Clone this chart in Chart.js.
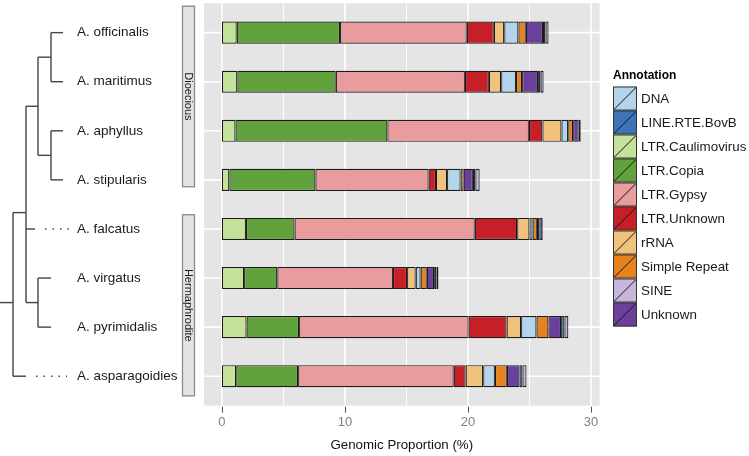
<!DOCTYPE html>
<html>
<head>
<meta charset="utf-8">
<script src="https://cdn.jsdelivr.net/npm/chart.js@4.4.1/dist/chart.umd.min.js"></script>
<style>
  html, body { margin: 0; padding: 0; background: #ffffff; }
  #wrap { width: 749px; height: 456px; }
</style>
</head>
<body>
<div id="wrap"><canvas id="chart" width="749" height="456"></canvas></div>
<script>
// --- DATA ---
const species = ['A. officinalis', 'A. maritimus', 'A. aphyllus', 'A. stipularis',
                 'A. falcatus', 'A. virgatus', 'A. pyrimidalis', 'A. asparagoidies'];

// genomic proportion (%) per annotation, one value per species (top to bottom)
const ltrCaulimovirus = [1.2, 1.25, 1.1, 0.6, 1.95, 1.8, 2.0, 1.16];
const ltrCopia        = [8.4, 8.0, 12.35, 7.0, 3.95, 2.7, 4.27, 5.03];
const ltrGypsy        = [10.3, 10.5, 11.5, 9.2, 14.65, 9.4, 13.78, 12.65];
const ltrUnknown      = [2.2, 1.95, 1.1, 0.6, 3.45, 1.15, 3.09, 0.97];
const rRNA            = [0.85, 1.0, 1.55, 0.9, 1.0, 0.7, 1.18, 1.43];
const dna             = [1.15, 1.2, 0.55, 1.1, 0.25, 0.4, 1.25, 0.95];
const simpleRepeat    = [0.6, 0.5, 0.4, 0.25, 0.35, 0.5, 0.97, 0.97];
const unknown         = [1.4, 1.3, 0.45, 0.75, 0.2, 0.6, 1.03, 1.03];
const lineRteBovB     = [0.2, 0.2, 0.15, 0.2, 0.25, 0.2, 0.27, 0.24];
const sine            = [0.25, 0.25, 0.05, 0.35, 0.05, 0.15, 0.32, 0.33];

const xTickStep = 10;
const minorBreaks = [5, 15, 25];

// legend is alphabetical, stacking order is not
const legendOrder = ['DNA', 'LINE.RTE.BovB', 'LTR.Caulimovirus', 'LTR.Copia', 'LTR.Gypsy',
                     'LTR.Unknown', 'rRNA', 'Simple Repeat', 'SINE', 'Unknown'];

const colors = {
  'DNA': '#b3d4ea',
  'LINE.RTE.BovB': '#3d74b6',
  'LTR.Caulimovirus': '#c4e29a',
  'LTR.Copia': '#62a23d',
  'LTR.Gypsy': '#e89c9e',
  'LTR.Unknown': '#c61f27',
  'rRNA': '#f0c27c',
  'Simple Repeat': '#e7831f',
  'SINE': '#c8b6da',
  'Unknown': '#6a409b'
};

// facet strips: [label, first row, last row] (row indices, fractional)
const strips = [
  ['Dioecious', -0.54, 3.14],
  ['Hermaphrodite', 3.71, 7.4]
];

// dendrogram: tip ends (px), dotted leaders, internal nodes
const tipEnd = [63, 63, 63, 63, 35, 51, 51, 26];
const tipDots = [null, null, null, null, [45, 70], null, null, [36, 67]];
const treeNodes = [
  { x: 51, kids: [0, 1] },
  { x: 51, kids: [2, 3] },
  { x: 38, kids: ['n0', 'n1'] },
  { x: 38, kids: [5, 6] },
  { x: 26, kids: ['n2', 4, 'n3'] },
  { x: 13, kids: ['n4', 7], y: 5.5 }
];

const FONT = 'Liberation Sans, Arial, Helvetica, sans-serif';

const stackOrder = [
  ['LTR.Caulimovirus', ltrCaulimovirus],
  ['LTR.Copia', ltrCopia],
  ['LTR.Gypsy', ltrGypsy],
  ['LTR.Unknown', ltrUnknown],
  ['rRNA', rRNA],
  ['DNA', dna],
  ['Simple Repeat', simpleRepeat],
  ['Unknown', unknown],
  ['LINE.RTE.BovB', lineRteBovB],
  ['SINE', sine]
];

const datasets = stackOrder.map(([name, values]) => ({
  label: name,
  data: values,
  backgroundColor: colors[name],
  borderColor: '#1a1a1a',
  borderWidth: 1.2,
  borderSkipped: false,
  barPercentage: 0.45,
  categoryPercentage: 1.0
}));

// --- PLUGIN: panel, grid, tree, strips, legend ---
function panelBox(chart) {
  const y = chart.scales.y;
  const band = (y.bottom - y.top) / species.length;
  return {
    left: chart.chartArea.left,
    right: chart.chartArea.right,
    top: Math.max(0, y.top - 0.1 * band),
    bottom: y.bottom + 0.1 * band,
    band
  };
}

const decorPlugin = {
  id: 'decor',
  beforeDraw(chart) {
    const ctx = chart.ctx;
    const xs = chart.scales.x, ys = chart.scales.y;
    const p = panelBox(chart);
    ctx.save();
    ctx.fillStyle = '#e5e5e5';
    ctx.fillRect(p.left, p.top, p.right - p.left, p.bottom - p.top);
    ctx.strokeStyle = '#ffffff';
    // minor grid
    ctx.lineWidth = 0.9;
    minorBreaks.forEach(v => {
      const px = xs.getPixelForValue(v);
      ctx.beginPath(); ctx.moveTo(px, p.top); ctx.lineTo(px, p.bottom); ctx.stroke();
    });
    // major grid
    ctx.lineWidth = 1.6;
    xs.ticks.forEach(t => {
      const px = xs.getPixelForValue(t.value);
      ctx.beginPath(); ctx.moveTo(px, p.top); ctx.lineTo(px, p.bottom); ctx.stroke();
    });
    species.forEach((_, i) => {
      const py = ys.getPixelForValue(i);
      ctx.beginPath(); ctx.moveTo(p.left, py); ctx.lineTo(p.right, py); ctx.stroke();
    });
    ctx.restore();
  },
  afterDraw(chart) {
    const ctx = chart.ctx;
    const xs = chart.scales.x, ys = chart.scales.y;
    const p = panelBox(chart);
    ctx.save();

    // axis tick marks
    ctx.strokeStyle = '#555555';
    ctx.lineWidth = 1;
    xs.ticks.forEach(t => {
      const px = Math.round(xs.getPixelForValue(t.value)) + 0.5;
      ctx.beginPath(); ctx.moveTo(px, p.bottom + 1); ctx.lineTo(px, p.bottom + 7); ctx.stroke();
    });

    // dendrogram
    const nodeY = [];
    const kidY = k => typeof k === 'number' ? k : nodeY[+k.slice(1)];
    treeNodes.forEach((n, i) => {
      nodeY[i] = n.y !== undefined ? n.y : n.kids.reduce((s, k) => s + kidY(k), 0) / n.kids.length;
    });
    ctx.strokeStyle = '#444444';
    ctx.lineWidth = 1.4;
    const line = (x1, y1, x2, y2) => { ctx.beginPath(); ctx.moveTo(x1, y1); ctx.lineTo(x2, y2); ctx.stroke(); };
    treeNodes.forEach((n, i) => {
      const ys2 = n.kids.map(k => ys.getPixelForValue(kidY(k)));
      line(n.x, Math.min(...ys2), n.x, Math.max(...ys2));
      n.kids.forEach((k, j) => {
        const endX = typeof k === 'number' ? tipEnd[k] : treeNodes[+k.slice(1)].x;
        line(n.x, ys2[j], endX, ys2[j]);
      });
    });
    const rootIdx = treeNodes.length - 1;
    const rootY = ys.getPixelForValue(nodeY[rootIdx]);
    line(0, rootY, treeNodes[rootIdx].x, rootY);
    ctx.setLineDash([1.5, 6]);
    tipDots.forEach((d, i) => {
      if (!d) return;
      const py = ys.getPixelForValue(i);
      line(d[0], py, d[1], py);
    });
    ctx.setLineDash([]);

    // facet strips
    strips.forEach(([label, a, b]) => {
      const y1 = ys.getPixelForValue(a), y2 = ys.getPixelForValue(b);
      const x1 = 182.5, w = 12;
      ctx.fillStyle = '#e3e3e3';
      ctx.fillRect(x1, y1, w, y2 - y1);
      ctx.strokeStyle = '#8a8a8a';
      ctx.lineWidth = 1.3;
      ctx.strokeRect(x1, y1, w, y2 - y1);
      ctx.save();
      ctx.translate(x1 + w / 2, (y1 + y2) / 2);
      ctx.rotate(Math.PI / 2);
      ctx.fillStyle = '#1a1a1a';
      ctx.font = '11px ' + FONT;
      ctx.textAlign = 'center';
      ctx.textBaseline = 'middle';
      ctx.fillText(label, 0, 0);
      ctx.restore();
    });

    // legend
    const lx = 613, ly = 86.5, box = 24;
    ctx.fillStyle = '#000000';
    ctx.font = 'bold 12px ' + FONT;
    ctx.textAlign = 'left';
    ctx.textBaseline = 'middle';
    ctx.fillText('Annotation', lx, 76);
    legendOrder.forEach((name, i) => {
      const by = ly + i * box;
      ctx.fillStyle = colors[name];
      ctx.fillRect(lx, by, box, box);
      ctx.strokeStyle = '#333333';
      ctx.lineWidth = 1;
      ctx.strokeRect(lx + 0.5, by + 0.5, box - 1, box - 1);
      ctx.strokeStyle = '#111111';
      ctx.beginPath(); ctx.moveTo(lx + 1, by + box - 1); ctx.lineTo(lx + box - 1, by + 1); ctx.stroke();
      ctx.fillStyle = '#1a1a1a';
      ctx.font = '13.4px ' + FONT;
      ctx.fillText(name, lx + box + 4, by + box / 2 + 0.5);
    });

    ctx.restore();
  }
};

// --- CHART ---
new Chart(document.getElementById('chart'), {
  type: 'bar',
  data: { labels: species, datasets },
  options: {
    responsive: false,
    animation: false,
    indexAxis: 'y',
    layout: { padding: { left: 77, right: 149.4, top: 4.75, bottom: 0 } },
    plugins: { legend: { display: false }, tooltip: { enabled: false } },
    scales: {
      x: {
        stacked: true,
        min: -1.46,
        max: 30.7,
        grid: { display: false, drawTicks: false },
        border: { display: false },
        ticks: {
          stepSize: xTickStep,
          includeBounds: false,
          padding: 14,
          color: '#808080',
          font: { size: 13, family: FONT }
        },
        title: {
          display: true,
          text: 'Genomic Proportion (%)',
          color: '#111111',
          font: { size: 13.3, family: FONT },
          padding: { top: 2, bottom: 3 }
        },
        afterFit: s => { s.height = 55.25; }
      },
      y: {
        stacked: true,
        grid: { display: false, drawTicks: false },
        border: { display: false },
        ticks: { crossAlign: 'far', padding: 0, color: '#1a1a1a', font: { size: 13.5, family: FONT } },
        afterFit: s => { s.width = 127; }
      }
    }
  },
  plugins: [decorPlugin]
});
</script>
</body>
</html>
